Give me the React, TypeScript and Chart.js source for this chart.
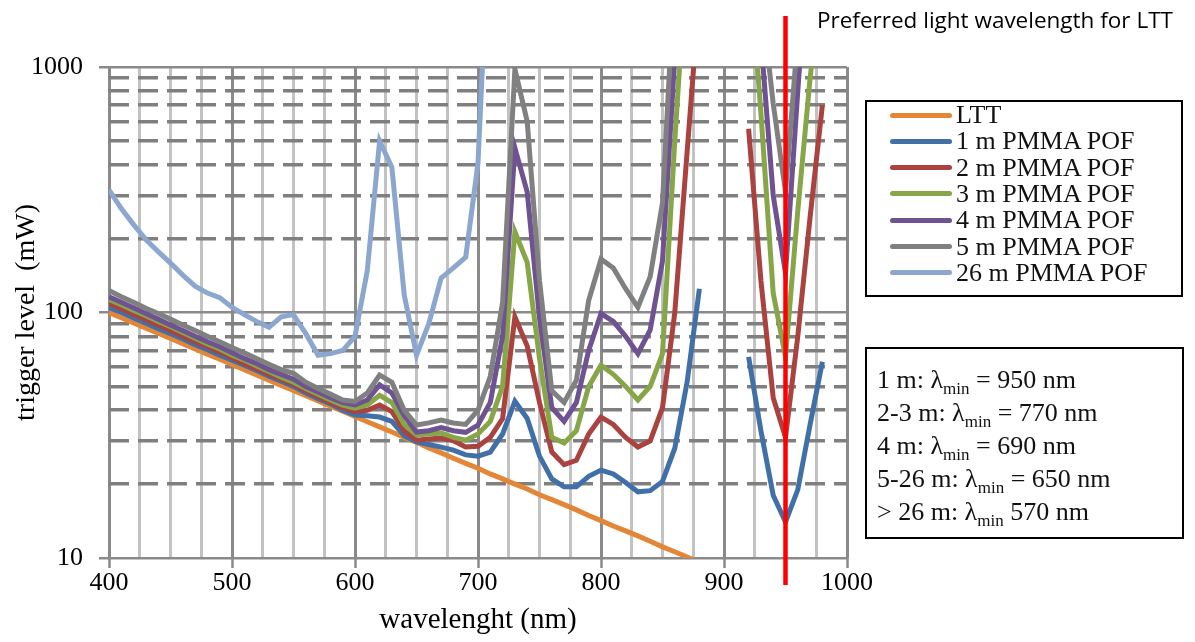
import React, { useEffect, useRef } from "react";
import { Chart, registerables } from "chart.js";
Chart.register(...registerables);

const wavelengths = [
  400, 410, 420, 430, 440, 450, 460, 470, 480, 490,
  500, 510, 520, 530, 540, 550, 560, 570, 580, 590,
  600, 610, 620, 630, 640, 650, 660, 670, 680, 690,
  700, 710, 720, 730, 740, 750, 760, 770, 780, 790,
  800, 810, 820, 830, 840, 850, 860, 870, 880, 890,
  900, 910, 920, 930, 940, 950, 960, 970, 980,
];

const ltt = [
  100, 95.2, 90.7, 86.4, 82.3, 78.4, 74.6, 71.1, 67.7, 64.5,
  61.4, 58.5, 55.7, 53.0, 50.5, 48.1, 45.8, 43.6, 41.5, 39.6,
  37.7, 35.9, 34.2, 32.6, 31.0, 29.6, 28.1, 26.8, 25.5, 24.3,
  23.2, 22.0, 21.0, 20.0, 19.1, 18.1, 17.3, 16.5, 15.7, 14.9,
  14.2, 13.5, 12.9, 12.3, 11.7, 11.1, 10.6, 10.1, 9.6, null,
  null, null, null, null, null, null, null, null, null,
];

const pof1m = [
  105, 100, 95, 90.5, 86, 82, 78, 74, 70.5, 67,
  64, 61, 58, 55, 52.5, 50, 47, 44.5, 42.5, 40,
  38.2, 38, 37.5, 36, 31.5, 29.7, 29, 28.3, 27.5, 26.3,
  26, 27, 32, 43.5, 37, 26, 21, 19.5, 19.5, 21.5,
  22.8, 22, 20.3, 18.6, 18.8, 20.5, 28, 52, 125, null,
  null, null, 66, 33, 18, 14, 19, 35, 63,
];

const pof2m = [
  109, 103.5, 98.5, 93.5, 89, 84.5, 80, 76, 72.5, 69,
  65.5, 62, 59, 56, 53.5, 51, 48, 45.5, 43, 41,
  39.5, 40, 42, 39.5, 33, 30.2, 30.5, 30.8, 30, 28.3,
  28.5, 31, 37, 96, 73, 43, 27, 24, 25, 32,
  37.5, 35, 31, 28.3, 30, 41, 100, 450, 2000, null,
  null, null, 560, 135, 45, 31, 80, 245, 700,
];

const pof3m = [
  113, 107.5, 102, 97, 92, 87.5, 83, 78.5, 74.5, 71,
  67, 64, 60.5, 57.5, 54.5, 52, 49, 46.5, 44, 42,
  40.8, 42, 46, 43, 35, 31.7, 32, 32.3, 31, 30.2,
  32, 36, 50, 213, 160, 65, 31, 29.4, 33, 50,
  61, 56, 50, 44, 50, 68, 500, 3000, null, null,
  null, null, 3000, 650, 120, 66, 260, 900, 2500,
];

const pof4m = [
  116, 110, 104.5, 99, 94, 89, 84.5, 80, 76, 72.5,
  68.5, 65, 62, 58.5, 56, 53.5, 50, 47.5, 45, 43,
  42, 44, 50.7, 47, 38, 32.6, 33, 34, 33, 32.5,
  34.8, 43, 80, 468, 310, 95, 41, 36, 43, 70,
  99, 92, 80, 68, 85, 162, 1100, 5000, null, null,
  null, null, 8000, 1300, 300, 145, 800, 4000, null,
];

const pof5m = [
  123, 116, 110, 104, 99, 94, 89, 84.5, 80, 76,
  72, 68.5, 65, 61.5, 58.5, 56.5, 52, 49, 46.5, 44,
  43.4, 47, 55.6, 52, 40, 34.8, 35.5, 36.5, 35.5, 35,
  40, 55, 110, 980, 600, 135, 48, 43, 53, 112,
  165, 152, 125, 105, 140, 280, 2500, null, null, null,
  null, null, null, 2000, 710, 310, 1350, 6000, null,
];

const pof26m = [
  316, 265, 228, 198, 177, 159, 142, 128, 120, 115,
  105, 98, 92, 87, 96, 98, 82, 67, 68, 70,
  80, 148, 500, 390, 118, 67, 90, 138, 152, 168,
  406, 5000, null, null, null, null, null, null, null, null,
  null, null, null, null, null, null, null, null, null, null,
  null, null, null, null, null, null, null, null, null,
];

const seriesNames = ["LTT", "1 m PMMA POF", "2 m PMMA POF", "3 m PMMA POF", "4 m PMMA POF", "5 m PMMA POF", "26 m PMMA POF"];
const seriesValues = [ltt, pof1m, pof2m, pof3m, pof4m, pof5m, pof26m];
const seriesColors = ["#E38737", "#4170A8", "#AA423F", "#86A648", "#6E5291", "#808080", "#8CA7CF"];

const xTickValues = [
  400, 425, 450, 475, 500, 525, 550, 575, 600, 625, 650, 675, 700,
  725, 750, 775, 800, 825, 850, 875, 900, 925, 950, 975, 1000,
];
const xLabelValues = [400, 500, 600, 700, 800, 900, 1000];
const yTickValues = [10, 20, 30, 40, 50, 60, 70, 80, 90, 100, 200, 300, 400, 500, 600, 700, 800, 900, 1000];
const yLabelValues = [10, 100, 1000];

const preferredWavelength = 950;
const titleText = "Preferred light wavelength for LTT";
const xAxisTitle = "wavelenght (nm)";
const yAxisTitle = "trigger level  (mW)";
const noteLines = [
  { pre: "1 m: λ", post: " = 950 nm" },
  { pre: "2-3 m: λ", post: " = 770 nm" },
  { pre: "4 m: λ", post: " = 690 nm" },
  { pre: "5-26 m: λ", post: " = 650 nm" },
  { pre: "> 26 m: λ", post: " 570 nm" },
];

const SERIF = "'Liberation Serif', 'Times New Roman', serif";

const preferredLinePlugin = {
  id: "preferredLine",
  afterDatasetsDraw(chart: any) {
    const { ctx, chartArea, scales } = chart;
    const x = scales.x.getPixelForValue(preferredWavelength);
    ctx.save();
    ctx.strokeStyle = "#FF0000";
    ctx.lineWidth = 4.5;
    ctx.beginPath();
    ctx.moveTo(x, chartArea.top - 51);
    ctx.lineTo(x, chartArea.bottom + 27);
    ctx.stroke();
    ctx.restore();
  },
};

export default function App() {
  const canvasRef = useRef<HTMLCanvasElement>(null);

  useEffect(() => {
    const datasets = seriesValues.map((vals, i) => ({
      label: seriesNames[i],
      data: wavelengths.map((w, j) => ({ x: w, y: vals[j] })),
      borderColor: seriesColors[i],
      backgroundColor: seriesColors[i],
      borderWidth: 5,
      pointRadius: 0,
      tension: 0,
      spanGaps: false,
      order: seriesValues.length - i,
    }));

    const chart = new Chart(canvasRef.current as HTMLCanvasElement, {
      type: "line",
      data: { datasets },
      plugins: [preferredLinePlugin],
      options: {
        animation: false,
        responsive: false,
        devicePixelRatio: 1,
        layout: { padding: { top: 67, right: 348, left: 0, bottom: 0 } },
        plugins: {
          legend: { display: false },
          tooltip: { enabled: false },
          title: { display: false },
        },
        scales: {
          x: {
            type: "linear",
            min: 400,
            max: 1000,
            afterBuildTicks: (scale: any) => {
              scale.ticks = xTickValues.map((v) => ({ value: v }));
            },
            afterFit: (scale: any) => {
              scale.height = 84;
            },
            ticks: {
              autoSkip: false,
              maxRotation: 0,
              minRotation: 0,
              padding: 0,
              color: "#000",
              font: { family: SERIF, size: 26 },
              callback: (v: any) => (xLabelValues.includes(Number(v)) ? String(v) : ""),
            },
            grid: {
              color: (ctx: any) => (ctx.tick && ctx.tick.value % 100 === 0 ? "#8A8A8A" : "#C2C2C2"),
              lineWidth: 3,
              tickLength: 10,
              tickColor: (ctx: any) => (ctx.tick && ctx.tick.value % 100 === 0 ? "#8A8A8A" : "rgba(0,0,0,0)"),
              tickWidth: 2.5,
            },
            border: { display: false },
            title: {
              display: true,
              text: xAxisTitle,
              color: "#000",
              font: { family: SERIF, size: 29 },
              padding: { top: 0, bottom: 4 },
            },
          },
          y: {
            type: "logarithmic",
            min: 10,
            max: 1000,
            afterBuildTicks: (scale: any) => {
              scale.ticks = yTickValues.map((v) => ({ value: v, major: yLabelValues.includes(v) }));
            },
            afterFit: (scale: any) => {
              scale.width = 109;
            },
            ticks: {
              autoSkip: false,
              padding: 16,
              color: "#000",
              font: { family: SERIF, size: 26 },
              callback: (v: any) => (yLabelValues.includes(Number(v)) ? String(v) : ""),
            },
            grid: {
              color: (ctx: any) => (ctx.tick && yLabelValues.includes(ctx.tick.value) ? "#8A8A8A" : "#7F7F7F"),
              lineWidth: (ctx: any) => (ctx.tick && yLabelValues.includes(ctx.tick.value) ? 2.5 : 3.5),
              tickLength: 10,
              tickColor: (ctx: any) => (ctx.tick && yLabelValues.includes(ctx.tick.value) ? "#8A8A8A" : "rgba(0,0,0,0)"),
            },
            border: {
              display: false,
              dash: (ctx: any) => (ctx.tick && yLabelValues.includes(ctx.tick.value) ? [] : [20, 9]),
            },
            title: {
              display: true,
              text: yAxisTitle,
              color: "#000",
              font: { family: SERIF, size: 28 },
              padding: { top: 10, bottom: 0 },
            },
          },
        },
      } as any,
    });
    return () => chart.destroy();
  }, []);

  const legendTop = 115;
  const legendStep = 26.3;
  const noteTop = 380;
  const noteStep = 33;

  return (
    <div style={{ position: "fixed", left: 0, top: 0, width: 1195, height: 642, background: "#fff", overflow: "hidden" }}>
      <canvas ref={canvasRef} width={1195} height={642} style={{ position: "absolute", left: 0, top: 0, width: 1195, height: 642 }} />
      <div
        style={{
          position: "absolute",
          left: 817,
          top: 5,
          fontFamily: "'Open Sans', sans-serif",
          fontSize: 22.5,
          lineHeight: "30px",
          color: "#000",
          whiteSpace: "nowrap",
        }}
      >
        {titleText}
      </div>
      <div style={{ position: "absolute", left: 865, top: 100, width: 318, height: 197, border: "2.5px solid #000", boxSizing: "border-box" }} />
      {seriesNames.map((name, i) => (
        <React.Fragment key={name}>
          <div
            style={{
              position: "absolute",
              left: 890,
              top: legendTop + i * legendStep - 2.5,
              width: 62,
              height: 5,
              borderRadius: 3,
              background: seriesColors[i],
            }}
          />
          <div
            style={{
              position: "absolute",
              left: 956,
              top: legendTop + i * legendStep - 15,
              fontFamily: SERIF,
              fontSize: 26,
              lineHeight: "30px",
              color: "#111",
              whiteSpace: "nowrap",
            }}
          >
            {name}
          </div>
        </React.Fragment>
      ))}
      <div style={{ position: "absolute", left: 865, top: 347, width: 319, height: 192, border: "2.5px solid #000", boxSizing: "border-box" }} />
      {noteLines.map((ln, i) => (
        <div
          key={i}
          style={{
            position: "absolute",
            left: 877,
            top: noteTop + i * noteStep - 16,
            fontFamily: SERIF,
            fontSize: 26,
            lineHeight: "32px",
            color: "#111",
            whiteSpace: "nowrap",
          }}
        >
          {ln.pre}
          <span style={{ fontSize: 17, position: "relative", top: 6 }}>min</span>
          {ln.post}
        </div>
      ))}
    </div>
  );
}
